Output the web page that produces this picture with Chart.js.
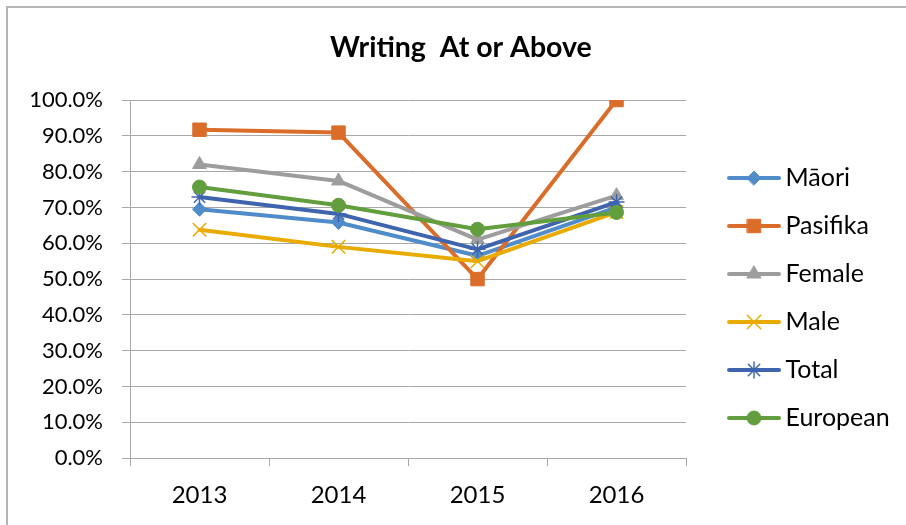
<!DOCTYPE html>
<html>
<head>
<meta charset="utf-8">
<script src="https://cdn.jsdelivr.net/npm/chart.js@4.4.1/dist/chart.umd.min.js"></script>
<style>
  html, body { margin: 0; padding: 0; background: #fff; }
  #wrap { position: relative; width: 906px; height: 525px; }
</style>
</head>
<body>
<div id="wrap"><canvas id="chart"></canvas></div>
<script>
// values (percent)
const years = ["2013", "2014", "2015", "2016"];
const maori    = [69.5, 65.8, 56.5, 70.0];
const pasifika = [91.7, 90.9, 50.0, 100.0];
const female   = [82.0, 77.4, 61.0, 73.3];
const male     = [63.8, 59.0, 55.0, 68.7];
const total    = [72.9, 68.2, 58.3, 71.5];
const european = [75.7, 70.6, 63.9, 68.6];

const seriesNames = ["Māori", "Pasifika", "Female", "Male", "Total", "European"];
const seriesData = [maori, pasifika, female, male, total, european];
const yMin = 0, yMax = 100, yStep = 10;

// look of each series (Excel style markers)
const colors  = ["#4f8cc9", "#db6d2a", "#9d9d9d", "#e9ab00", "#3e64ae", "#639e3e"];
const markers = ["rectRot", "rect", "triangle", "crossRot", "star", "circle"];
const radii   = [7, 9.5, 8, 9.5, 8, 7];

const FONT = "Lato, 'Open Sans', sans-serif";
const GRID = "#a8a8a8";

function isStroked(style) {
  return style === "crossRot" || style === "star";
}

// legend sample: a short line with the marker in the middle
function legendIcon(i) {
  const c = document.createElement("canvas");
  c.width = 80;
  c.height = 24;
  const ctx = c.getContext("2d");
  ctx.strokeStyle = colors[i];
  ctx.fillStyle = colors[i];
  ctx.lineWidth = 4;
  ctx.lineCap = "round";
  ctx.beginPath();
  ctx.moveTo(28, 12);
  ctx.lineTo(78, 12);
  ctx.stroke();
  ctx.lineWidth = isStroked(markers[i]) ? 1.5 : 1;
  Chart.helpers.drawPoint(ctx, {
    pointStyle: markers[i], radius: radii[i], rotation: 0,
    borderWidth: ctx.lineWidth
  }, 53, 12);
  return c;
}
const icons = seriesNames.map((n, i) => legendIcon(i));

const datasets = seriesNames.map((name, i) => ({
  label: name,
  data: seriesData[i],
  borderColor: colors[i],
  backgroundColor: colors[i],
  borderWidth: 4,
  borderCapStyle: "round",
  borderJoinStyle: "round",
  tension: 0,
  fill: false,
  pointStyle: markers[i],
  pointRadius: radii[i],
  pointHoverRadius: radii[i],
  pointBorderWidth: isStroked(markers[i]) ? 1.5 : 1,
  pointBackgroundColor: colors[i],
  pointBorderColor: colors[i],
  order: seriesNames.length - 1 - i   // later series drawn on top, like Excel
}));

const framePlugin = {
  id: "frame",
  beforeDraw(chart) {
    const ctx = chart.ctx;
    ctx.save();
    ctx.strokeStyle = "#b4b4b4";
    ctx.lineWidth = 2;
    ctx.strokeRect(7, 7, chart.width + 20, chart.height + 20);
    ctx.restore();
  }
};

new Chart(document.getElementById("chart"), {
  type: "line",
  data: { labels: years, datasets: datasets },
  plugins: [framePlugin],
  options: {
    responsive: true,
    maintainAspectRatio: false,
    devicePixelRatio: 1,
    animation: false,
    layout: { padding: { left: 22, right: 6.3, top: 0, bottom: 0 } },
    plugins: {
      title: {
        display: true,
        text: "Writing  At or Above",
        color: "#000",
        font: { family: FONT, size: 28.5, weight: "bold" },
        padding: { top: 31, bottom: 34.8 }
      },
      legend: {
        position: "right",
        align: "center",
        title: { display: true, text: " ", font: { size: 12 }, padding: { top: 0, bottom: 56.6 } },
        labels: {
          color: "#000",
          font: { family: FONT, size: 25 },
          usePointStyle: true,
          pointStyleWidth: 64,
          padding: 23,
          generateLabels: (c) => c.data.datasets.map((ds, i) => ({
            text: ds.label,
            pointStyle: icons[i],
            datasetIndex: i,
            hidden: false,
            fontColor: "#000",
            lineWidth: 0,
            fillStyle: colors[i],
            strokeStyle: colors[i]
          }))
        }
      },
      tooltip: { enabled: false }
    },
    scales: {
      x: {
        offset: true,
        grid: { display: true, drawOnChartArea: false, drawTicks: true, tickLength: 8, color: GRID, offset: true },
        border: { display: true, color: GRID, width: 1 },
        ticks: { color: "#000", font: { family: FONT, size: 24 }, padding: 15, maxRotation: 0 }
      },
      y: {
        min: yMin,
        max: yMax,
        afterFit: (s) => { s.width = 108; },
        grid: { color: GRID, tickLength: 8, drawTicks: true },
        border: { display: true, color: GRID, width: 1 },
        ticks: {
          stepSize: yStep,
          color: "#000",
          padding: 19,
          font: { family: FONT, size: 22 },
          callback: (v) => v.toFixed(1) + "%"
        }
      }
    }
  }
});
</script>
</body>
</html>
